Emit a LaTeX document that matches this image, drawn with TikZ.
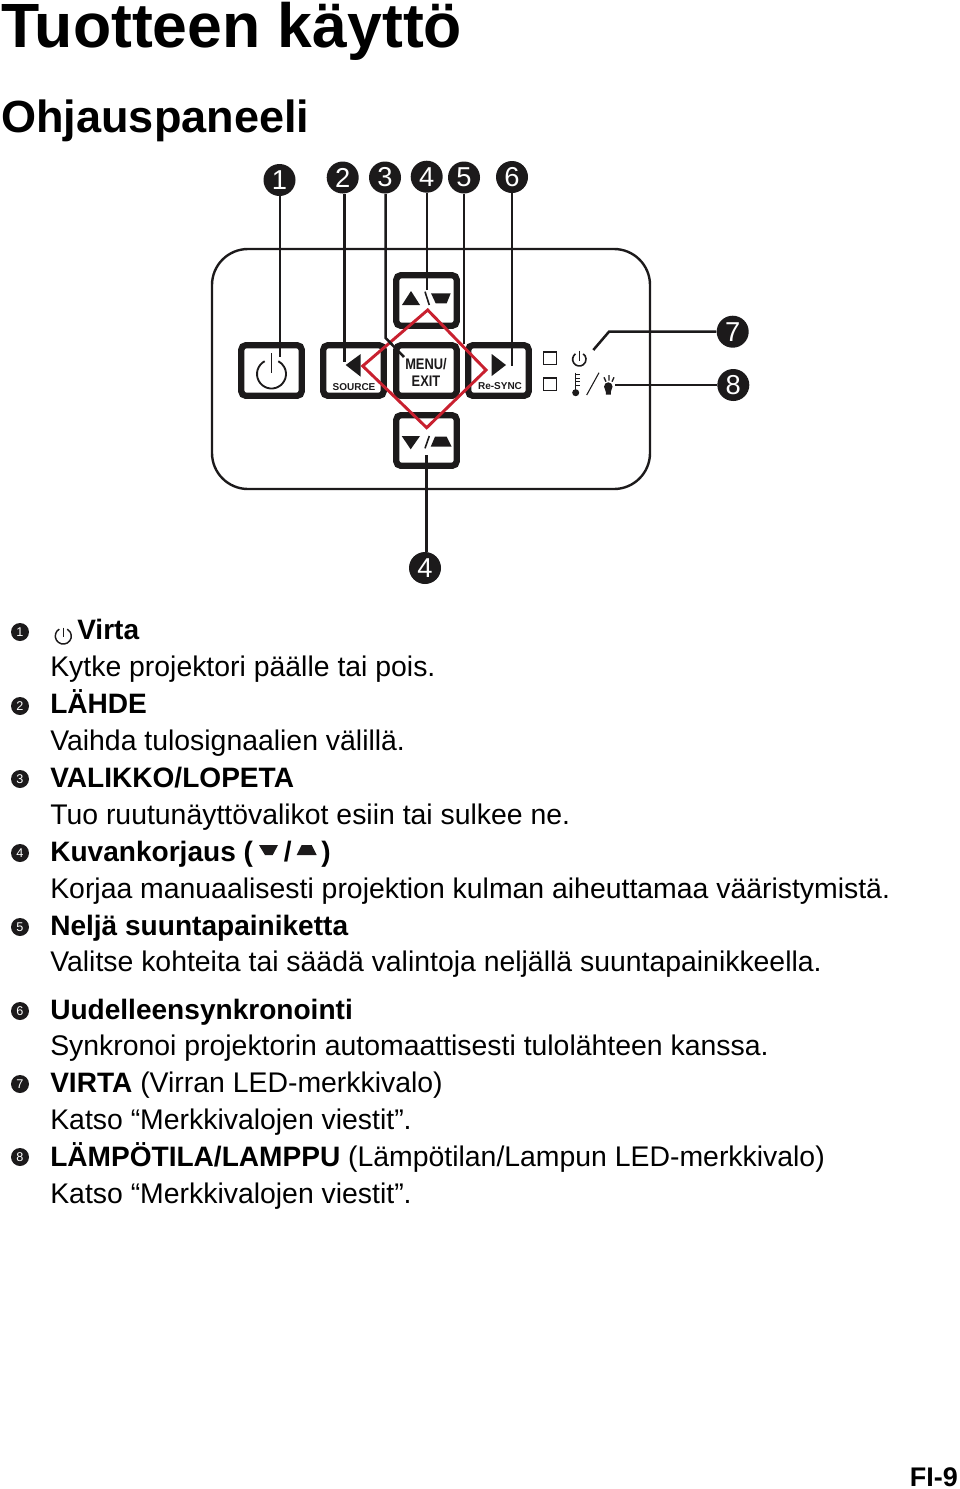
\documentclass[tikz,border=0pt]{standalone}
\usepackage{fontspec}
\setmainfont{Liberation Sans}
\definecolor{panelblack}{HTML}{1C1A1B}
\definecolor{diamondred}{HTML}{C8202F}
\newcommand{\headtext}[1]{{\bfseries\fontsize{21.05}{25}\selectfont #1}}
\tikzset{
    callout/.style={circle, fill=panelblack, text=white, inner sep=0pt, minimum size=24pt, font=\fontsize{20.5}{24}\selectfont},
    smallcallout/.style={circle, fill=panelblack, text=white, inner sep=0pt, minimum size=13.5pt, font=\fontsize{9.5}{10}\selectfont},
    leader/.style={panelblack, line width=1.9pt},
    btn/.style={draw=panelblack, line width=4.7pt, rounded corners=3.5pt, minimum width=45.4pt, minimum height=38pt, inner sep=0pt},
    btnlabel/.style={panelblack, inner sep=0pt, font=\bfseries\fontsize{7.5}{9}\selectfont},
    body/.style={anchor=base west, inner sep=0pt, text=black, font=\fontsize{21.3}{25}\selectfont},
    led/.style={draw=panelblack, line width=1.1pt, minimum size=9.4pt, inner sep=0pt},
}
\begin{document}
\begin{tikzpicture}[x=0.75pt, y=-0.75pt]
    \useasboundingbox (0, 0) rectangle (960, 1489);

    % headings
    \node[anchor=base west, inner sep=0pt, font=\bfseries\fontsize{46.9}{50}\selectfont] (title) at (1, 47) {Tuotteen käyttö};
    \node[anchor=base west, inner sep=0pt, font=\bfseries\fontsize{33.8}{38}\selectfont] (subtitle) at (1, 132) {Ohjauspaneeli};

    % panel
    \draw[panelblack, line width=1.8pt, rounded corners=27pt] (212, 249) rectangle (650, 489);

    \node[btn] (power) at (271.5, 370.5) {};
    \node[btn] (source) at (353.5, 370.5) {};
    \node[btn] (menu) at (426.5, 370.5) {};
    \node[btn] (resync) at (498.5, 370.5) {};
    \node[btn] (up) at (426.5, 300.5) {};
    \node[btn] (down) at (426.5, 440.5) {};

    \node[btnlabel] (sourcetext) at (354, 387) {SOURCE};
    \node[btnlabel] (resynctext) at (500, 386.5) {Re-SYNC};
    \node[btnlabel, font=\bfseries\fontsize{11.5}{13}\selectfont] (menutext) at (426, 364) {\scalebox{0.84}[1]{MENU/}};
    \node[btnlabel, font=\bfseries\fontsize{11.5}{13}\selectfont] (exittext) at (426, 381) {\scalebox{0.84}[1]{EXIT}};

    % icons on the buttons
    \draw[panelblack, line width=1.4pt] (264.7, 361.2) arc (118:422:14.5 and -14.5);
    \draw[panelblack, line width=1.4pt] (271.5, 353) -- (271.5, 373);
    \fill[panelblack] (345.7, 365) -- (360.7, 354) -- (360.7, 376.7) -- cycle;
    \fill[panelblack] (491.7, 354) -- (491.7, 376) -- (506, 365) -- cycle;
    \fill[panelblack] (402, 305) -- (420, 305) -- (411, 291) -- cycle;
    \draw[panelblack, line width=1.2pt] (425, 291.7) -- (429.3, 305);
    \fill[panelblack] (431, 293.3) -- (450.7, 293.3) -- (446.7, 303.3) -- (435.7, 303.3) -- cycle;
    \fill[panelblack] (401.7, 436) -- (420, 436) -- (410.7, 449.3) -- cycle;
    \draw[panelblack, line width=1.2pt] (425, 448.3) -- (429.3, 436);
    \fill[panelblack] (435, 436.7) -- (446.7, 436.7) -- (451.7, 446.7) -- (430.7, 446.7) -- cycle;

    % indicators
    \node[led] (ledpower) at (550, 358.3) {};
    \node[led] (ledtemp) at (550, 384.2) {};
    \draw[panelblack, line width=1.2pt] (575.5, 353.8) arc (125:415:6.7 and -6.7);
    \draw[panelblack, line width=1.2pt] (579.3, 350.5) -- (579.3, 361);
    \draw[panelblack, line width=1pt] (575.7, 372.7) -- (575.7, 390);
    \fill[panelblack] (575.7, 392.7) circle (3.5);
    \foreach \y in {374.5, 378, 381.5, 385}
        \draw[panelblack, line width=0.7pt] (575.7, \y) -- (579.5, \y);
    \draw[panelblack, line width=0.8pt] (586.7, 395) -- (599, 372.7);
    \fill[panelblack] (608.3, 386.5) circle (4.2);
    \fill[panelblack] (604.3, 387) -- (612.3, 387) -- (610.8, 392) -- (610.8, 394.5) -- (605.8, 394.5) -- (605.8, 392) -- cycle;
    \draw[panelblack, line width=1pt] (604, 377.3) -- (606, 381.7) (609, 375) -- (609, 380.7) (614, 377.3) -- (612, 381.7);

    % red diamond
    \draw[diamondred, line width=2.2pt, miter limit=10] (427.7, 310) -- (486, 370) -- (426.7, 427.7) -- (362.7, 366) -- cycle;

    % numbered callouts and their leaders
    \foreach \n/\px/\py/\ex/\ey in {1/279.5/180/280/357, 2/342.7/177.5/344.7/361.7, 4/426.7/176.7/427/290, 5/464/177.5/464/344, 6/512/177/512/366}
    {
        \node[callout] (c\n) at (\px, \py) {\n};
        \coordinate (e\n) at (\ex, \ey);
        \draw[leader] (c\n.south -| e\n) -- (e\n);
    }
    \node[callout] (c3) at (385, 177.5) {3};
    \coordinate (e3a) at (385.7, 338);
    \coordinate (e3b) at (404, 357);
    \draw[leader] (c3.south -| e3a) -- (e3a) -- (e3b);

    \node[callout] (c7) at (732.7, 331.7) {7};
    \coordinate (e7a) at (609, 331.7);
    \coordinate (e7b) at (593.3, 350);
    \draw[leader] (c7) -- (e7a) -- (e7b);

    \node[callout] (c8) at (733.3, 385) {8};
    \coordinate (e8) at (615, 385);
    \draw[leader] (c8) -- (e8);

    \node[callout] (c9) at (425, 568) {4};
    \coordinate (e9) at (426.7, 455);
    \draw[leader] (c9.north -| e9) -- (e9);

    % legend
    \foreach \n/\y in {1/632, 2/706, 3/779, 4/853, 5/927, 6/1011, 7/1084, 8/1157}
        \node[smallcallout] (s\n) at (20, \y) {\n};

    \draw[panelblack, line width=1.1pt] (59.3, 629.1) arc (120:420:8 and -8);
    \draw[panelblack, line width=1.1pt] (63.3, 627.5) -- (63.3, 637);
    \node[body] (virta) at (77, 639.5) {\headtext{Virta}};
    \node[body] (l1) at (50, 676.5) {Kytke projektori päälle tai pois.};
    \node[body] (l2) at (50, 713.5) {\headtext{LÄHDE}};
    \node[body] (l3) at (50, 750) {Vaihda tulosignaalien välillä.};
    \node[body] (l4) at (50, 787) {\headtext{VALIKKO/LOPETA}};
    \node[body] (l5) at (50, 824) {Tuo ruutunäyttövalikot esiin tai sulkee ne.};
    \node[body] (l6) at (50, 861) {\headtext{Kuvankorjaus (}};
    \fill[panelblack] (259, 845) -- (278, 845) -- (272.7, 855) -- (265, 855) -- cycle;
    \node[body] (l6b) at (283.5, 861) {\headtext{/}};
    \fill[panelblack] (301.7, 845) -- (311.7, 845) -- (316.7, 855) -- (296.7, 855) -- cycle;
    \node[body] (l6c) at (321, 861) {\headtext{)}};
    \node[body] (l7) at (50, 898) {Korjaa manuaalisesti projektion kulman aiheuttamaa vääristymistä.};
    \node[body] (l8) at (50, 935) {\headtext{Neljä suuntapainiketta}};
    \node[body] (l9) at (50, 971.5) {Valitse kohteita tai säädä valintoja neljällä suuntapainikkeella.};
    \node[body] (l10) at (50, 1019) {\headtext{Uudelleensynkronointi}};
    \node[body] (l11) at (50, 1055.5) {Synkronoi projektorin automaattisesti tulolähteen kanssa.};
    \node[body] (l12) at (50, 1092.5) {\headtext{VIRTA} (Virran LED-merkkivalo)};
    \node[body] (l13) at (50, 1129.5) {Katso “Merkkivalojen viestit”.};
    \node[body] (l14) at (50, 1166) {\headtext{LÄMPÖTILA/LAMPPU} (Lämpötilan/Lampun LED-merkkivalo)};
    \node[body] (l15) at (50, 1203) {Katso “Merkkivalojen viestit”.};

    \node[anchor=base east, inner sep=0pt, font=\bfseries\fontsize{20.2}{24}\selectfont] (page) at (958, 1486) {FI-9};
\end{tikzpicture}
\end{document}
